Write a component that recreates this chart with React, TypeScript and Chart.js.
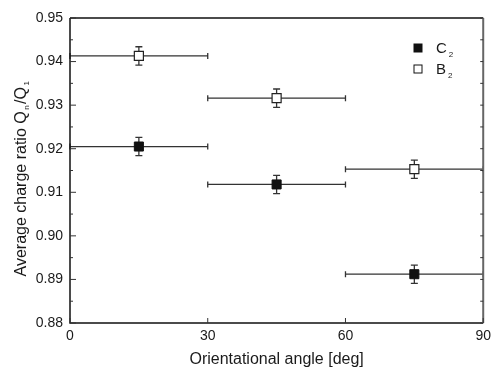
import React, { useEffect, useRef } from "react";
import { Chart, registerables } from "chart.js";

Chart.register(...registerables);

const angles = [15, 45, 75];
const angleHalfWidths = [15, 15, 15];
const c2Values = [0.9205, 0.9118, 0.8912];
const c2Errors = [0.0021, 0.0021, 0.0021];
const b2Values = [0.9413, 0.9316, 0.9153];
const b2Errors = [0.0021, 0.0021, 0.0021];
const xTicks = [0, 30, 60, 90];
const yTicks = [0.88, 0.89, 0.9, 0.91, 0.92, 0.93, 0.94, 0.95];
const yMinorTicks = [0.885, 0.895, 0.905, 0.915, 0.925, 0.935, 0.945];
const xTitle = "Orientational angle [deg]";
const yTitleMain = "Average charge ratio Q";
const yTitleSub1 = "n";
const yTitleMid = "/Q";
const yTitleSub2 = "1";
const legendNames = ["C", "B"];
const legendSubs = ["2", "2"];

const FONT = "'Liberation Sans', Arial, sans-serif";
const INK = "#1a1a1a";

const errorBarPlugin = {
  id: "errorBars",
  beforeDatasetsDraw(chart: any) {
    const ctx = chart.ctx;
    const xs = chart.scales.x;
    const ys = chart.scales.y;
    const series = [
      { vals: c2Values, errs: c2Errors },
      { vals: b2Values, errs: b2Errors },
    ];
    ctx.save();
    ctx.strokeStyle = "#333";
    ctx.lineWidth = 1.3;
    series.forEach((s) => {
      s.vals.forEach((v, i) => {
        const x0 = xs.getPixelForValue(angles[i] - angleHalfWidths[i]);
        const x1 = xs.getPixelForValue(angles[i] + angleHalfWidths[i]);
        const xc = xs.getPixelForValue(angles[i]);
        const y = ys.getPixelForValue(v);
        const yt = ys.getPixelForValue(v + s.errs[i]);
        const yb = ys.getPixelForValue(v - s.errs[i]);
        ctx.beginPath();
        ctx.moveTo(x0, y);
        ctx.lineTo(x1, y);
        ctx.moveTo(x0, y - 3);
        ctx.lineTo(x0, y + 3);
        ctx.moveTo(x1, y - 3);
        ctx.lineTo(x1, y + 3);
        ctx.moveTo(xc, yt);
        ctx.lineTo(xc, yb);
        ctx.moveTo(xc - 3.5, yt);
        ctx.lineTo(xc + 3.5, yt);
        ctx.moveTo(xc - 3.5, yb);
        ctx.lineTo(xc + 3.5, yb);
        ctx.stroke();
      });
    });
    ctx.restore();
  },
};

const framePlugin = {
  id: "frame",
  afterDraw(chart: any) {
    const ctx = chart.ctx;
    const xs = chart.scales.x;
    const ys = chart.scales.y;
    const a = chart.chartArea;
    ctx.save();
    // frame
    ctx.lineWidth = 1.5;
    ctx.strokeStyle = "#111";
    ctx.beginPath();
    ctx.moveTo(a.left, a.top);
    ctx.lineTo(a.right, a.top);
    ctx.moveTo(a.left, a.top);
    ctx.lineTo(a.left, a.bottom);
    ctx.lineTo(a.right, a.bottom);
    ctx.stroke();
    ctx.strokeStyle = "#666";
    ctx.lineWidth = 2;
    ctx.beginPath();
    ctx.moveTo(a.right, a.top);
    ctx.lineTo(a.right, a.bottom);
    ctx.stroke();
    // ticks
    ctx.lineWidth = 1;
    ctx.strokeStyle = "#333";
    ctx.beginPath();
    yTicks.forEach((t) => {
      const y = ys.getPixelForValue(t);
      ctx.moveTo(a.left, y);
      ctx.lineTo(a.left + 6, y);
      ctx.moveTo(a.right, y);
      ctx.lineTo(a.right - 3, y);
    });
    yMinorTicks.forEach((t) => {
      const y = ys.getPixelForValue(t);
      ctx.moveTo(a.left, y);
      ctx.lineTo(a.left + 3, y);
      ctx.moveTo(a.right, y);
      ctx.lineTo(a.right - 3, y);
    });
    xTicks.forEach((t) => {
      const x = xs.getPixelForValue(t);
      ctx.moveTo(x, a.bottom);
      ctx.lineTo(x, a.bottom - 5);
    });
    ctx.stroke();

    // legend
    const lx = 418;
    const lys = [48, 69];
    lys.forEach((ly, i) => {
      ctx.fillStyle = i === 0 ? "#111" : "#fff";
      ctx.strokeStyle = "#111";
      ctx.lineWidth = 1;
      ctx.fillRect(lx - 4, ly - 4, 8, 8);
      ctx.strokeRect(lx - 4, ly - 4, 8, 8);
      ctx.fillStyle = INK;
      ctx.textBaseline = "alphabetic";
      ctx.textAlign = "left";
      ctx.font = `15px ${FONT}`;
      ctx.fillText(legendNames[i], 436, ly + 5);
      const w = ctx.measureText(legendNames[i]).width;
      ctx.font = `8px ${FONT}`;
      ctx.fillText(legendSubs[i], 436 + w + 2, ly + 9);
    });

    // x title
    ctx.fillStyle = INK;
    ctx.font = `16px ${FONT}`;
    ctx.textAlign = "center";
    ctx.textBaseline = "alphabetic";
    ctx.fillText(xTitle, (a.left + a.right) / 2, 364);

    // y title (rotated, with subscripts)
    ctx.save();
    ctx.translate(26, 178);
    ctx.rotate(-Math.PI / 2);
    const big = `16px ${FONT}`;
    const small = `8px ${FONT}`;
    ctx.font = big;
    const w1 = ctx.measureText(yTitleMain).width;
    const w3 = ctx.measureText(yTitleMid).width;
    ctx.font = small;
    const w2 = ctx.measureText(yTitleSub1).width;
    const w4 = ctx.measureText(yTitleSub2).width;
    const total = w1 + w2 + 3 + w3 + w4 + 3;
    let cx = -total / 2;
    ctx.textAlign = "left";
    ctx.font = big;
    ctx.fillText(yTitleMain, cx, 0);
    cx += w1 + 1.5;
    ctx.font = small;
    ctx.fillText(yTitleSub1, cx, 3);
    cx += w2 + 1.5;
    ctx.font = big;
    ctx.fillText(yTitleMid, cx, 0);
    cx += w3 + 1.5;
    ctx.font = small;
    ctx.fillText(yTitleSub2, cx, 3);
    ctx.restore();

    ctx.restore();
  },
};

export default function App() {
  const ref = useRef<HTMLCanvasElement>(null);
  useEffect(() => {
    document.body.style.margin = "0";
    const chart = new Chart(ref.current!, {
      type: "scatter",
      data: {
        datasets: [
          {
            label: "C2",
            data: angles.map((a, i) => ({ x: a, y: c2Values[i] })),
            pointStyle: "rect",
            pointRadius: 6.4,
            backgroundColor: "#111",
            borderColor: "#111",
            borderWidth: 1,
          },
          {
            label: "B2",
            data: angles.map((a, i) => ({ x: a, y: b2Values[i] })),
            pointStyle: "rect",
            pointRadius: 6.4,
            backgroundColor: "#fff",
            borderColor: "#222",
            borderWidth: 1.2,
          },
        ],
      },
      options: {
        animation: false,
        responsive: false,
        layout: { padding: { left: 0, top: 18, right: 7, bottom: 0 } },
        plugins: { legend: { display: false }, tooltip: { enabled: false } },
        scales: {
          x: {
            type: "linear",
            min: 0,
            max: 90,
            afterBuildTicks: (s: any) => {
              s.ticks = xTicks.map((v) => ({ value: v }));
            },
            ticks: {
              padding: 5,
              color: INK,
              font: { family: FONT, size: 14 },
              maxRotation: 0,
              callback: (v: any) => String(v),
            },
            grid: { display: false, drawTicks: false },
            border: { display: false },
            afterFit: (s: any) => {
              s.height = 44;
            },
          },
          y: {
            type: "linear",
            min: 0.88,
            max: 0.95,
            afterBuildTicks: (s: any) => {
              s.ticks = yTicks.map((v) => ({ value: v }));
            },
            ticks: {
              padding: 7,
              color: INK,
              font: { family: FONT, size: 14 },
              callback: (v: any) => Number(v).toFixed(2),
            },
            grid: { display: false, drawTicks: false },
            border: { display: false },
            afterFit: (s: any) => {
              s.width = 70;
            },
          },
        },
      },
      plugins: [errorBarPlugin, framePlugin],
    } as any);
    return () => chart.destroy();
  }, []);
  return (
    <div style={{ width: 496, height: 367 }}>
      <canvas ref={ref} width={496} height={367} />
    </div>
  );
}
